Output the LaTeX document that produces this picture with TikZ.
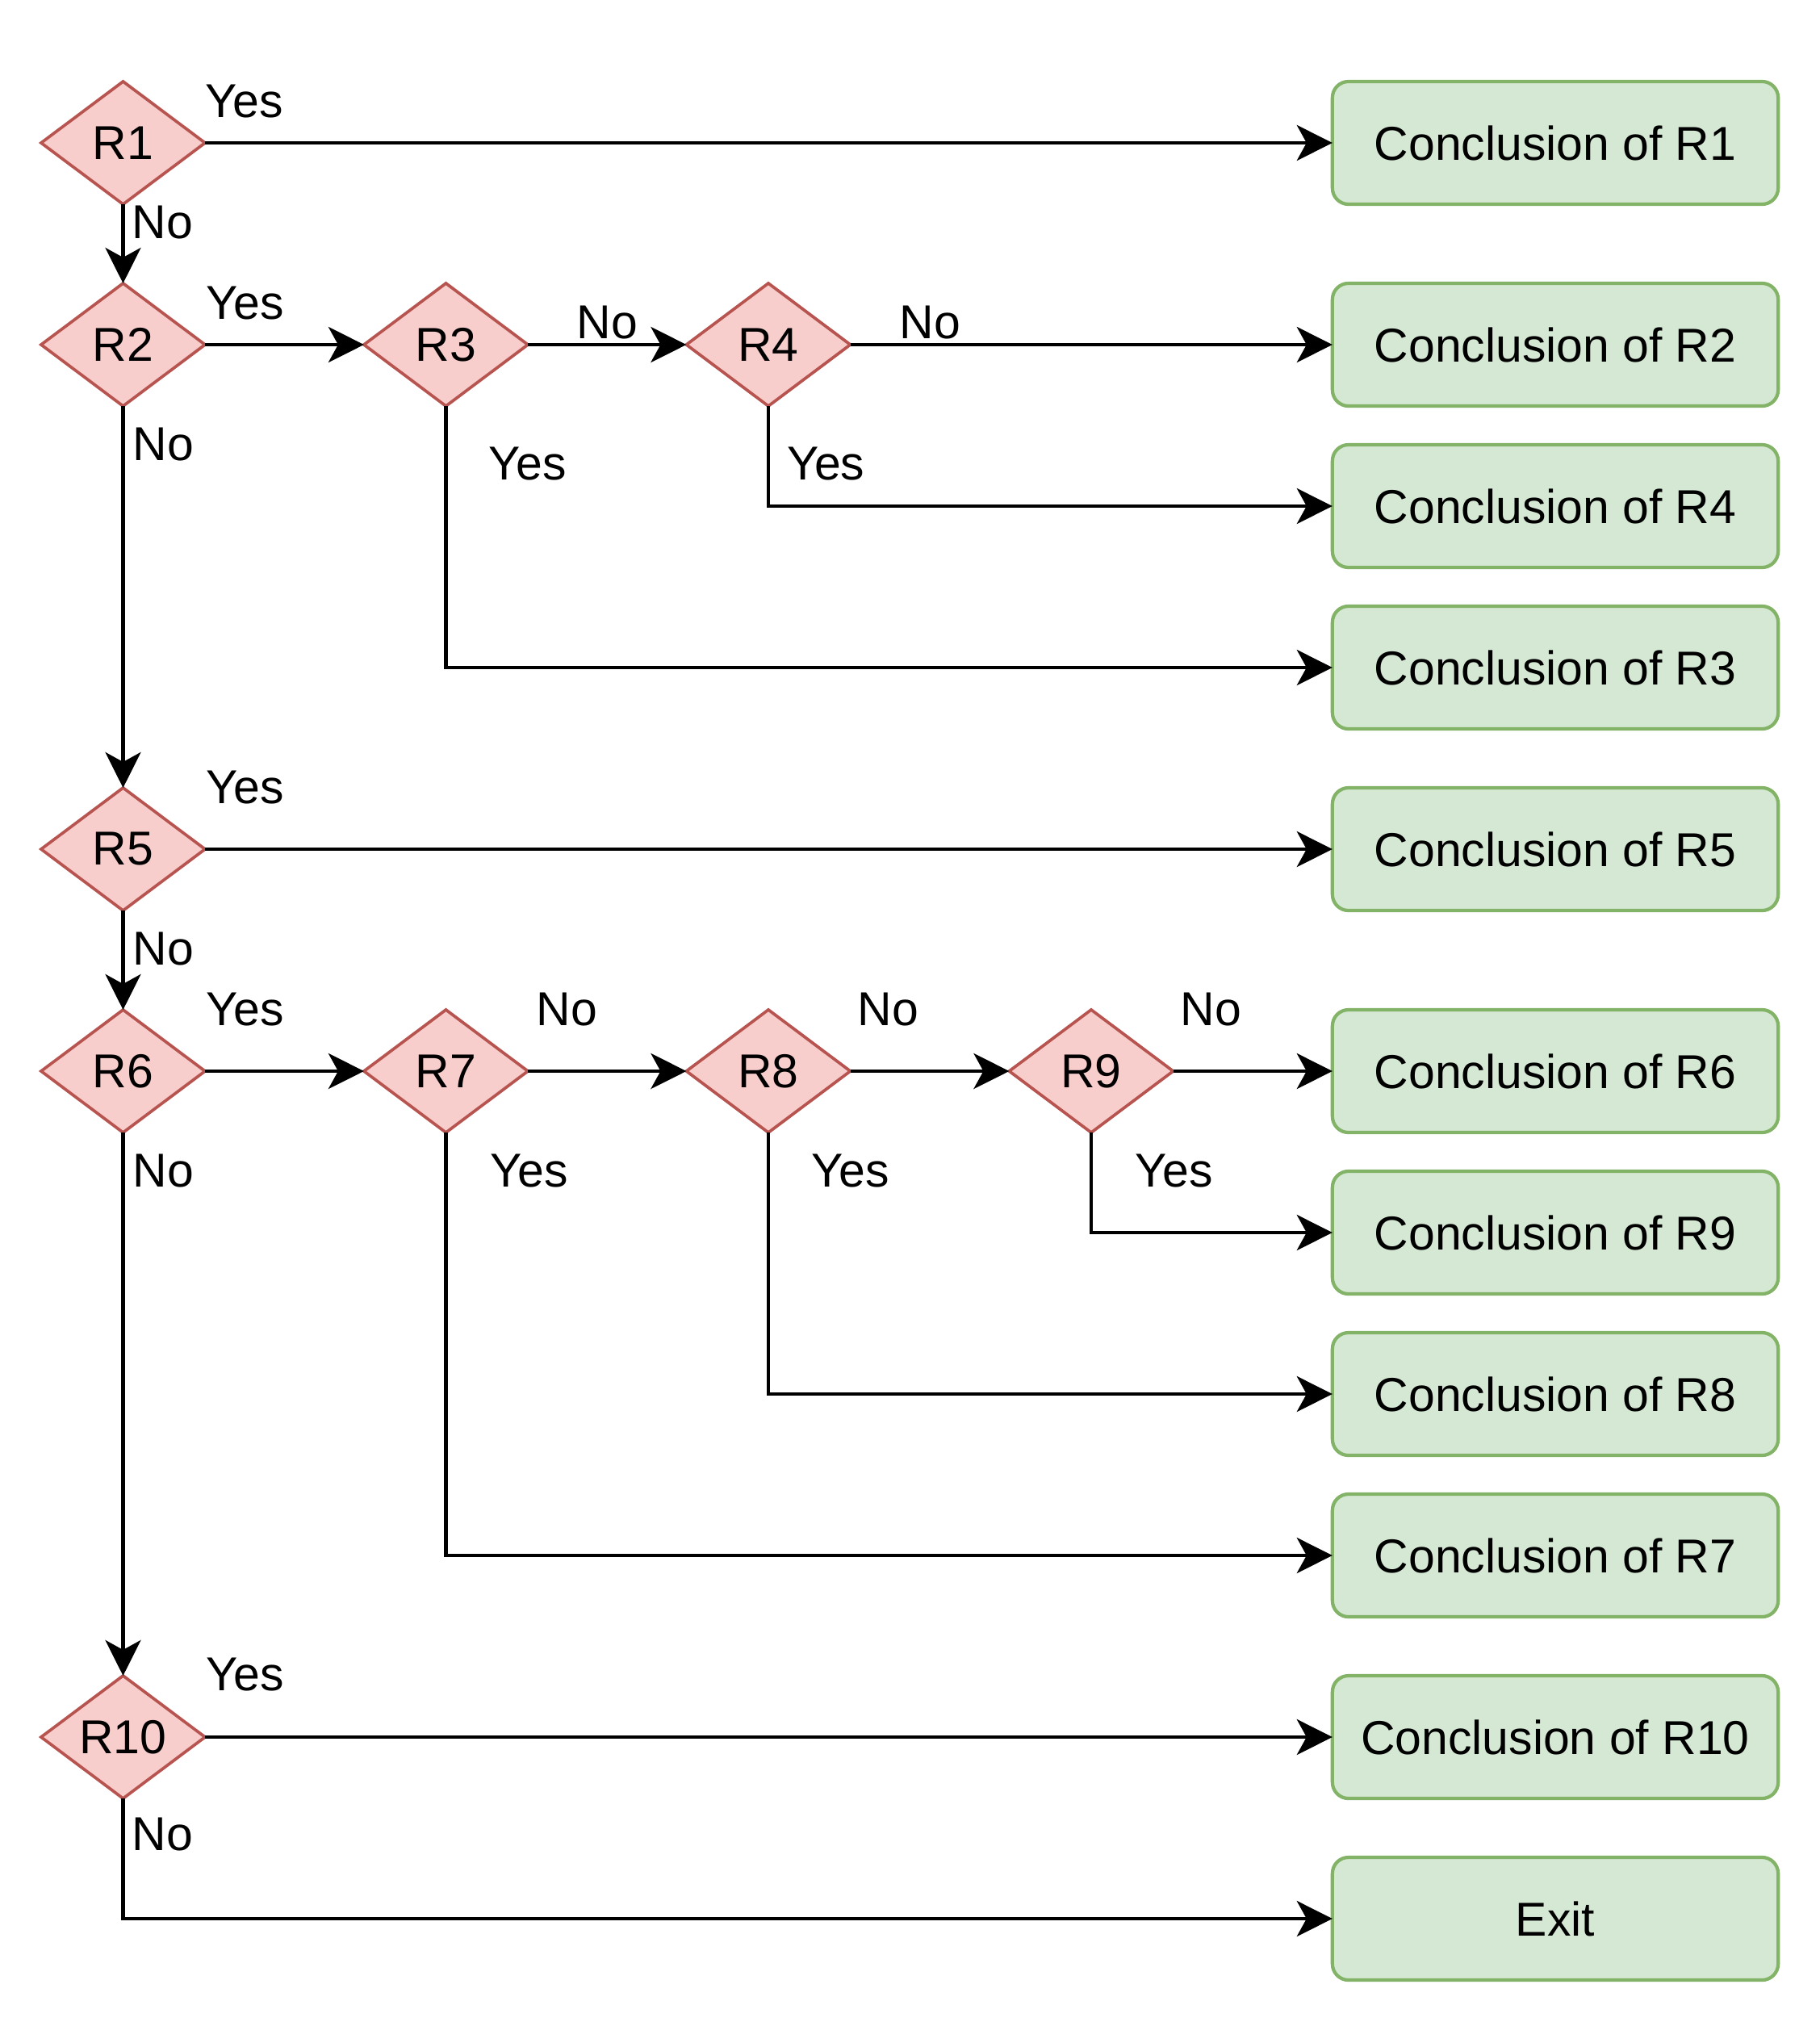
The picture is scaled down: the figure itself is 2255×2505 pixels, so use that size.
\documentclass[tikz,border=0pt]{standalone}
\usepackage{fontspec}
\setmainfont{Liberation Sans}
\usetikzlibrary{shapes.geometric,arrows.meta}
\definecolor{diafill}{HTML}{F8CECC}
\definecolor{diadraw}{HTML}{B85450}
\definecolor{boxfill}{HTML}{D5E8D4}
\definecolor{boxdraw}{HTML}{82B366}
\begin{document}
\begin{tikzpicture}[x=0.01cm,y=-0.01cm,
  font=\fontsize{16.75pt}{19pt}\selectfont,
  dia/.style={diamond, draw=diadraw, fill=diafill, line width=1.05pt, minimum width=2.03cm, minimum height=1.52cm, inner sep=0pt, outer sep=0pt},
  concl/.style={rectangle, rounded corners=0.2cm, draw=boxdraw, fill=boxfill, line width=1.2pt, minimum width=5.52cm, minimum height=1.52cm, inner sep=0pt, outer sep=0pt},
  edge/.style={line width=1.25pt, -{Stealth[length=0.44cm, width=0.44cm, inset=0.12cm]}},
  lbl/.style={anchor=base west, inner sep=0pt}]
\useasboundingbox (0,0) rectangle (2255,2505);

% decision nodes
\node[dia] (r1) at (152.5,177) {R1};
\node[dia] (r2) at (152.5,427) {R2};
\node[dia] (r3) at (552.5,427) {R3};
\node[dia] (r4) at (952,427) {R4};
\node[dia] (r5) at (152.5,1052) {R5};
\node[dia] (r6) at (152.5,1327) {R6};
\node[dia] (r7) at (552.5,1327) {R7};
\node[dia] (r8) at (952,1327) {R8};
\node[dia] (r9) at (1352,1327) {R9};
\node[dia] (r10) at (152.5,2152) {R10};

% conclusion boxes
\node[concl] (c1) at (1927,177) {Conclusion of R1};
\node[concl] (c2) at (1927,427) {Conclusion of R2};
\node[concl] (c4) at (1927,627) {Conclusion of R4};
\node[concl] (c3) at (1927,827) {Conclusion of R3};
\node[concl] (c5) at (1927,1052) {Conclusion of R5};
\node[concl] (c6) at (1927,1327) {Conclusion of R6};
\node[concl] (c9) at (1927,1527) {Conclusion of R9};
\node[concl] (c8) at (1927,1727) {Conclusion of R8};
\node[concl] (c7) at (1927,1927) {Conclusion of R7};
\node[concl] (c10) at (1927,2152) {Conclusion of R10};
\node[concl] (exit) at (1927,2377) {Exit};

% connectors
\draw[edge] (r1.east) -- (c1.west);
\draw[edge] (r1.south) -- (r2.north);
\draw[edge] (r2.east) -- (r3.west);
\draw[edge] (r3.east) -- (r4.west);
\draw[edge] (r4.east) -- (c2.west);
\draw[edge] (r4.south) |- (c4.west);
\draw[edge] (r3.south) |- (c3.west);
\draw[edge] (r2.south) -- (r5.north);
\draw[edge] (r5.east) -- (c5.west);
\draw[edge] (r5.south) -- (r6.north);
\draw[edge] (r6.east) -- (r7.west);
\draw[edge] (r7.east) -- (r8.west);
\draw[edge] (r8.east) -- (r9.west);
\draw[edge] (r9.east) -- (c6.west);
\draw[edge] (r9.south) |- (c9.west);
\draw[edge] (r8.south) |- (c8.west);
\draw[edge] (r7.south) |- (c7.west);
\draw[edge] (r6.south) -- (r10.north);
\draw[edge] (r10.east) -- (c10.west);
\draw[edge] (r10.south) |- (exit.west);

% labels
\node[lbl] (y1) at (254,145) {Yes};
\node[lbl] (n1) at (163,295) {No};
\node[lbl] (y2) at (255,395) {Yes};
\node[lbl] (n3) at (714,419.5) {No};
\node[lbl] (n4) at (1114,419.5) {No};
\node[lbl] (y3) at (605,594.5) {Yes};
\node[lbl] (y4) at (974.5,594.5) {Yes};
\node[lbl] (n2) at (164,570) {No};
\node[lbl] (y5) at (255,995) {Yes};
\node[lbl] (n5) at (164,1195) {No};
\node[lbl] (y6) at (255,1270) {Yes};
\node[lbl] (n7) at (664,1270) {No};
\node[lbl] (n8) at (1062,1270) {No};
\node[lbl] (n9) at (1462,1270) {No};
\node[lbl] (n6) at (164,1470) {No};
\node[lbl] (y7) at (607,1470) {Yes};
\node[lbl] (y8) at (1005,1470) {Yes};
\node[lbl] (y9) at (1406,1470) {Yes};
\node[lbl] (y10) at (255,2094) {Yes};
\node[lbl] (n10) at (163,2292) {No};
\end{tikzpicture}
\end{document}
